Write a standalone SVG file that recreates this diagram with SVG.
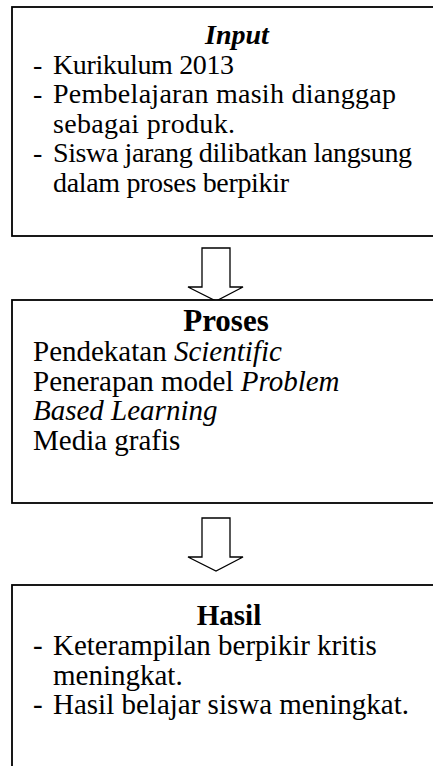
<svg xmlns="http://www.w3.org/2000/svg" width="433" height="766" viewBox="0 0 433 766">
<style>
.box{fill:#fff;stroke:#000;stroke-width:1.8}
.arr{fill:#fff;stroke:#000;stroke-width:1.3;stroke-linejoin:miter}
text{font-family:"Liberation Serif","Times New Roman",serif;font-size:29px;fill:#000}
.s{font-size:28px}
.h{font-weight:bold;text-anchor:middle}
.i{font-style:italic}
</style>
<rect width="433" height="766" fill="#fff"/>
<g id="connectors">
<polygon class="arr" points="202,248 230,248 230,287 243,287 216,301 188,287 202,287"/>
<polygon class="arr" points="202,518 230,518 230,557 243,557 216,571 188,557 202,557"/>
</g>
<g id="input">
<rect class="box" x="12" y="7" width="440" height="229"/>
<text class="h i s" x="237" y="44">Input</text>
<text class="s" x="33" y="74">-</text><text class="s" x="53" y="74" textLength="181" lengthAdjust="spacing">Kurikulum 2013</text>
<text class="s" x="33" y="103">-</text><text class="s" x="53" y="103" textLength="343" lengthAdjust="spacing">Pembelajaran masih dianggap</text>
<text class="s" x="53" y="133" textLength="182" lengthAdjust="spacing">sebagai produk.</text>
<text class="s" x="33" y="162">-</text><text class="s" x="53" y="162" textLength="359" lengthAdjust="spacing">Siswa jarang dilibatkan langsung</text>
<text class="s" x="53" y="192" textLength="236" lengthAdjust="spacing">dalam proses berpikir</text>
</g>
<g id="proses">
<rect class="box" x="12" y="300" width="440" height="203"/>
<text class="h" x="226" y="331" style="font-size:31px">Proses</text>
<text x="33" y="361">Pendekatan <tspan class="i">Scientific</tspan></text>
<text x="33" y="391">Penerapan model <tspan class="i">Problem</tspan></text>
<text class="i" x="33" y="420">Based Learning</text>
<text x="33" y="450">Media grafis</text>
</g>
<g id="hasil">
<rect class="box" x="12" y="585" width="440" height="200"/>
<text class="h" x="229" y="625">Hasil</text>
<text x="33" y="655">-</text><text x="53" y="655">Keterampilan berpikir kritis</text>
<text x="53" y="685">meningkat.</text>
<text x="33" y="714">-</text><text x="53" y="714">Hasil belajar siswa meningkat.</text>
</g>
</svg>
